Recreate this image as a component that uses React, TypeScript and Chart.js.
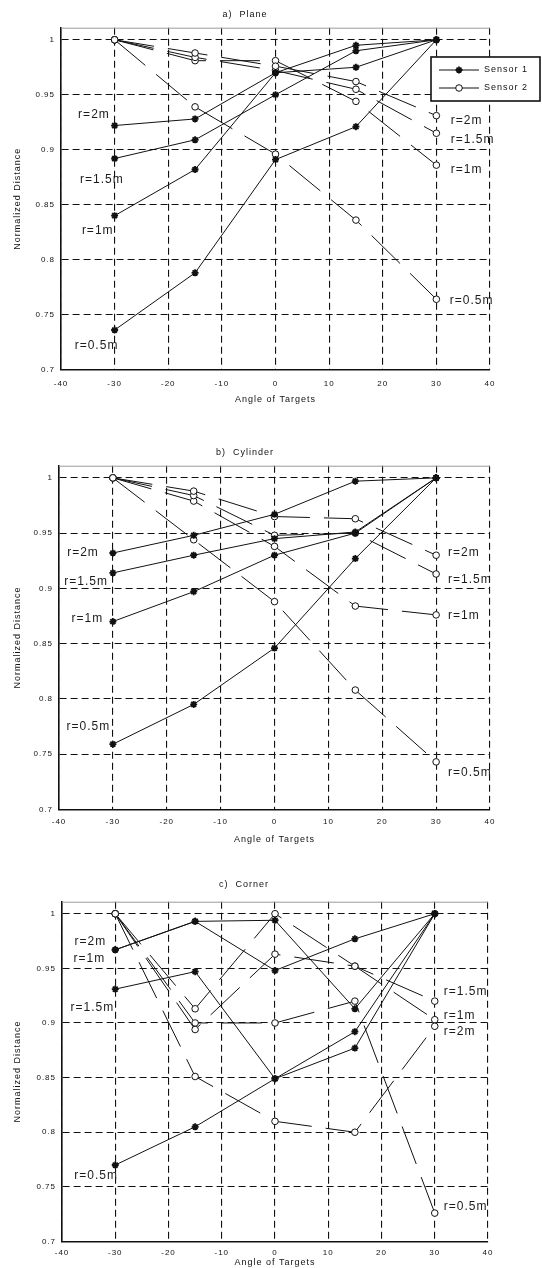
import React, { useEffect, useRef } from "react";
import { Chart, registerables } from "chart.js";

Chart.register(...registerables);

// ---------- shared axes ----------
const angles = [-30, -15, 0, 15, 30];
const xTicks = [-40, -30, -20, -10, 0, 10, 20, 30, 40];
const yTicks = [0.7, 0.75, 0.8, 0.85, 0.9, 0.95, 1];
const yTickLabels = ["0.7", "0.75", "0.8", "0.85", "0.9", "0.95", "1"];
const rangeLabels = ["r=2m", "r=1.5m", "r=1m", "r=0.5m"];
const sensorNames = ["Sensor 1", "Sensor 2"];
const xTitle = "Angle of Targets";
const yTitle = "Normalized Distance";

// ---------- a) Plane ----------
const planeS1_2m = [0.922, 0.928, 0.97, 0.975, 1.0];
const planeS1_15m = [0.892, 0.909, 0.95, 0.99, 1.0];
const planeS1_1m = [0.84, 0.882, 0.97, 0.995, 1.0];
const planeS1_05m = [0.736, 0.788, 0.891, 0.921, 1.0];
const planeS2_2m = [1.0, 0.988, 0.976, 0.962, 0.931];
const planeS2_15m = [1.0, 0.984, 0.972, 0.955, 0.915];
const planeS2_1m = [1.0, 0.981, 0.981, 0.944, 0.886];
const planeS2_05m = [1.0, 0.939, 0.896, 0.836, 0.764];

// ---------- b) Cylinder ----------
const cylS1_2m = [0.932, 0.948, 0.967, 0.997, 1.0];
const cylS1_15m = [0.914, 0.93, 0.945, 0.951, 1.0];
const cylS1_1m = [0.87, 0.897, 0.93, 0.95, 1.0];
const cylS1_05m = [0.759, 0.795, 0.846, 0.927, 1.0];
const cylS2_2m = [1.0, 0.988, 0.965, 0.963, 0.93];
const cylS2_15m = [1.0, 0.984, 0.948, 0.95, 0.913];
const cylS2_1m = [1.0, 0.979, 0.938, 0.884, 0.876];
const cylS2_05m = [1.0, 0.944, 0.888, 0.808, 0.743];

// ---------- c) Corner ----------
const cornS1_2m = [0.967, 0.993, 0.994, 0.913, 1.0];
const cornS1_15m = [0.931, 0.947, 0.849, 0.892, 1.0];
const cornS1_1m = [0.967, 0.993, 0.948, 0.977, 1.0];
const cornS1_05m = [0.77, 0.805, 0.849, 0.877, 1.0];
const cornS2_2m = [1.0, 0.851, 0.81, 0.8, 0.897];
const cornS2_15m = [1.0, 0.913, 1.0, 0.952, 0.92];
const cornS2_1m = [1.0, 0.894, 0.963, 0.952, 0.903];
const cornS2_05m = [1.0, 0.9, 0.9, 0.92, 0.726];

type Series = { sensor: number; values: number[] };
type Note = { text: string; x: number; y: number; align: "left" | "right" };
type Panel = {
  title: string;
  top: number;
  height: number;
  titleY: number;
  areaTop: number;
  areaBottom: number;
  areaLeft: number;
  areaRight: number;
  tickPad: number;
  xTitlePad: number;
  legend: boolean;
  series: Series[];
  notes: Note[];
};

const panels: Panel[] = [
  {
    title: "a)  Plane",
    top: 0,
    height: 410,
    titleY: 14.5,
    areaTop: 27.7,
    areaBottom: 369.6,
    areaLeft: 61,
    areaRight: 490,
    tickPad: 9.5,
    xTitlePad: 4.6,
    legend: true,
    series: [
      { sensor: 1, values: planeS1_2m },
      { sensor: 1, values: planeS1_15m },
      { sensor: 1, values: planeS1_1m },
      { sensor: 1, values: planeS1_05m },
      { sensor: 2, values: planeS2_2m },
      { sensor: 2, values: planeS2_15m },
      { sensor: 2, values: planeS2_1m },
      { sensor: 2, values: planeS2_05m },
    ],
    notes: [
      { text: rangeLabels[0], x: -30.9, y: 0.932, align: "right" },
      { text: rangeLabels[1], x: -28.3, y: 0.873, align: "right" },
      { text: rangeLabels[2], x: -30.2, y: 0.826, align: "right" },
      { text: rangeLabels[3], x: -29.3, y: 0.722, align: "right" },
      { text: rangeLabels[0], x: 32.7, y: 0.926, align: "left" },
      { text: rangeLabels[1], x: 32.7, y: 0.909, align: "left" },
      { text: rangeLabels[2], x: 32.7, y: 0.882, align: "left" },
      { text: rangeLabels[3], x: 32.5, y: 0.763, align: "left" },
    ],
  },
  {
    title: "b)  Cylinder",
    top: 437.9,
    height: 410,
    titleY: 452,
    areaTop: 465.6,
    areaBottom: 809.3,
    areaLeft: 59,
    areaRight: 490,
    tickPad: 7.4,
    xTitlePad: 3.5,
    legend: false,
    series: [
      { sensor: 1, values: cylS1_2m },
      { sensor: 1, values: cylS1_15m },
      { sensor: 1, values: cylS1_1m },
      { sensor: 1, values: cylS1_05m },
      { sensor: 2, values: cylS2_2m },
      { sensor: 2, values: cylS2_15m },
      { sensor: 2, values: cylS2_1m },
      { sensor: 2, values: cylS2_05m },
    ],
    notes: [
      { text: rangeLabels[0], x: -32.6, y: 0.932, align: "right" },
      { text: rangeLabels[1], x: -30.9, y: 0.906, align: "right" },
      { text: rangeLabels[2], x: -31.8, y: 0.873, align: "right" },
      { text: rangeLabels[3], x: -30.5, y: 0.7745, align: "right" },
      { text: rangeLabels[0], x: 32.2, y: 0.932, align: "left" },
      { text: rangeLabels[1], x: 32.2, y: 0.9075, align: "left" },
      { text: rangeLabels[2], x: 32.2, y: 0.875, align: "left" },
      { text: rangeLabels[3], x: 32.2, y: 0.733, align: "left" },
    ],
  },
  {
    title: "c)  Corner",
    top: 874.3,
    height: 393.7,
    titleY: 885,
    areaTop: 902,
    areaBottom: 1241.5,
    areaLeft: 62,
    areaRight: 488,
    tickPad: 6.2,
    xTitlePad: 0,
    legend: false,
    series: [
      { sensor: 1, values: cornS1_2m },
      { sensor: 1, values: cornS1_15m },
      { sensor: 1, values: cornS1_1m },
      { sensor: 1, values: cornS1_05m },
      { sensor: 2, values: cornS2_2m },
      { sensor: 2, values: cornS2_15m },
      { sensor: 2, values: cornS2_1m },
      { sensor: 2, values: cornS2_05m },
    ],
    notes: [
      { text: rangeLabels[0], x: -31.7, y: 0.974, align: "right" },
      { text: rangeLabels[2], x: -31.9, y: 0.959, align: "right" },
      { text: rangeLabels[1], x: -30.2, y: 0.914, align: "right" },
      { text: rangeLabels[3], x: -29.5, y: 0.76, align: "right" },
      { text: rangeLabels[1], x: 31.7, y: 0.929, align: "left" },
      { text: rangeLabels[2], x: 31.7, y: 0.907, align: "left" },
      { text: rangeLabels[0], x: 31.7, y: 0.892, align: "left" },
      { text: rangeLabels[3], x: 31.7, y: 0.732, align: "left" },
    ],
  },
];

const FONT = "'Liberation Sans', Arial, sans-serif";
const INK = "#111";

function styleFor(sensor: number) {
  if (sensor === 1) {
    return {
      borderDash: [] as number[],
      pointStyle: "star",
      pointRadius: 3.5,
      pointBorderWidth: 1.8,
      pointBackgroundColor: INK,
    };
  }
  return {
    borderDash: [40, 14],
    pointStyle: "circle",
    pointRadius: 3.3,
    pointBorderWidth: 1,
    pointBackgroundColor: "#fff",
  };
}

function drawMarker(ctx: CanvasRenderingContext2D, sensor: number, x: number, y: number) {
  const st = styleFor(sensor);
  const r = st.pointRadius;
  ctx.save();
  ctx.setLineDash([]);
  ctx.strokeStyle = INK;
  ctx.fillStyle = st.pointBackgroundColor;
  ctx.lineWidth = st.pointBorderWidth;
  ctx.beginPath();
  if (sensor === 1) {
    for (let k = 0; k < 4; k++) {
      const a = (k * Math.PI) / 4;
      ctx.moveTo(x - Math.cos(a) * r, y - Math.sin(a) * r);
      ctx.lineTo(x + Math.cos(a) * r, y + Math.sin(a) * r);
    }
    ctx.stroke();
  } else {
    ctx.arc(x, y, r, 0, Math.PI * 2);
    ctx.fill();
    ctx.stroke();
  }
  ctx.restore();
}

function ChartPanel({ p }: { p: Panel }) {
  const ref = useRef<HTMLCanvasElement | null>(null);
  useEffect(() => {
    const canvas = ref.current;
    if (!canvas) return;
    const lh = 9 * 1.2;
    const datasets = p.series.map((s) => {
      const st = styleFor(s.sensor);
      return {
        label: sensorNames[s.sensor - 1],
        data: angles.map((a, i) => ({ x: a, y: s.values[i] })),
        borderColor: INK,
        borderWidth: 1,
        borderDash: st.borderDash,
        pointStyle: st.pointStyle as any,
        pointRadius: st.pointRadius,
        pointBorderWidth: st.pointBorderWidth,
        pointBackgroundColor: st.pointBackgroundColor,
        pointBorderColor: INK,
        tension: 0,
        fill: false,
      };
    });

    const spacingPlugin = {
      id: "spacing",
      beforeDraw(chart: any) {
        (chart.ctx as any).letterSpacing = "1px";
      },
    };

    const framePlugin = {
      id: "frame",
      afterDraw(chart: any) {
        const { ctx, chartArea, scales } = chart;
        ctx.save();
        // top box line
        ctx.setLineDash([]);
        ctx.strokeStyle = "#9a9a9a";
        ctx.lineWidth = 1;
        ctx.beginPath();
        ctx.moveTo(chartArea.left, chartArea.top + 0.5);
        ctx.lineTo(chartArea.right, chartArea.top + 0.5);
        ctx.stroke();
        // range annotations
        ctx.fillStyle = "#1b1b1b";
        ctx.font = `12px ${FONT}`;
        (ctx as any).letterSpacing = "1px";
        ctx.textBaseline = "middle";
        for (const n of p.notes) {
          const px = scales.x.getPixelForValue(n.x);
          const py = scales.y.getPixelForValue(n.y);
          ctx.textAlign = n.align;
          ctx.fillText(n.text, px, py);
        }
        // legend
        if (p.legend) {
          const bx = 431, by = 57, bw = 109, bh = 44;
          ctx.fillStyle = "#fff";
          ctx.fillRect(bx, by, bw, bh);
          ctx.strokeStyle = INK;
          ctx.lineWidth = 1.6;
          ctx.strokeRect(bx, by, bw, bh);
          [1, 2].forEach((sensor, i) => {
            const y = by + 13 + i * 18;
            ctx.lineWidth = 1;
            ctx.setLineDash([]);
            ctx.strokeStyle = INK;
            ctx.beginPath();
            ctx.moveTo(bx + 8, y);
            ctx.lineTo(bx + 48, y);
            ctx.stroke();
            drawMarker(ctx, sensor, bx + 28, y);
            ctx.fillStyle = INK;
            ctx.font = `9px ${FONT}`;
            ctx.textAlign = "left";
            ctx.textBaseline = "middle";
            ctx.fillText(sensorNames[i], bx + 53, y);
          });
        }
        ctx.restore();
      },
    };

    const chart = new Chart(canvas, {
      type: "line",
      data: { datasets },
      options: {
        responsive: false,
        animation: false,
        devicePixelRatio: 1,
        layout: { padding: { left: 0, right: 542 - p.areaRight, top: 0, bottom: 0 } },
        plugins: {
          legend: { display: false },
          tooltip: { enabled: false },
          title: {
            display: true,
            text: p.title,
            color: INK,
            font: { family: FONT, size: 9, lineHeight: 1.2, weight: "normal" },
            padding: {
              top: p.titleY - p.top - lh / 2,
              bottom: p.areaTop - p.titleY - lh / 2,
            },
          },
        },
        scales: {
          x: {
            type: "linear",
            min: -40,
            max: 40,
            afterBuildTicks(scale: any) {
              scale.ticks = xTicks.map((v) => ({ value: v }));
            },
            afterFit(scale: any) {
              scale.height = p.height - (p.areaBottom - p.top);
            },
            ticks: {
              autoSkip: false,
              maxRotation: 0,
              padding: p.tickPad,
              color: INK,
              font: { family: FONT, size: 8 },
              callback: (v: any) => String(v),
            },
            grid: { color: INK, lineWidth: 1.1, drawTicks: false },
            border: { display: true, color: INK, width: 1.6, dash: [7, 4] },
            title: {
              display: true,
              text: xTitle,
              color: INK,
              font: { family: FONT, size: 9, lineHeight: 1.2 },
              padding: { top: 0, bottom: p.xTitlePad },
            },
          },
          y: {
            type: "linear",
            min: 0.7,
            max: 1.011,
            afterBuildTicks(scale: any) {
              scale.ticks = yTicks.map((v) => ({ value: v }));
            },
            afterFit(scale: any) {
              scale.width = p.areaLeft;
            },
            ticks: {
              padding: 6,
              color: INK,
              font: { family: FONT, size: 8 },
              callback: (v: any) => {
                const i = yTicks.findIndex((t) => Math.abs(t - v) < 1e-6);
                return i >= 0 ? yTickLabels[i] : "";
              },
            },
            grid: { color: INK, lineWidth: 1.1, drawTicks: false },
            border: { display: true, color: INK, width: 1.6, dash: [7, 4] },
            title: {
              display: true,
              text: yTitle,
              color: INK,
              font: { family: FONT, size: 9, lineHeight: 1.2 },
              padding: { top: 12.6, bottom: 0 },
            },
          },
        },
      } as any,
      plugins: [spacingPlugin, framePlugin],
    });
    return () => chart.destroy();
  }, [p]);

  const h = Math.round(p.height);
  return (
    <canvas
      ref={ref}
      width={542}
      height={h}
      style={{ position: "absolute", left: 0, top: Math.round(p.top), width: 542, height: h }}
    />
  );
}

export default function App() {
  return (
    <div style={{ position: "absolute", left: 0, top: 0, width: 542, height: 1268, background: "#fff", overflow: "hidden" }}>
      {panels.map((p, i) => (
        <ChartPanel key={i} p={p} />
      ))}
    </div>
  );
}
